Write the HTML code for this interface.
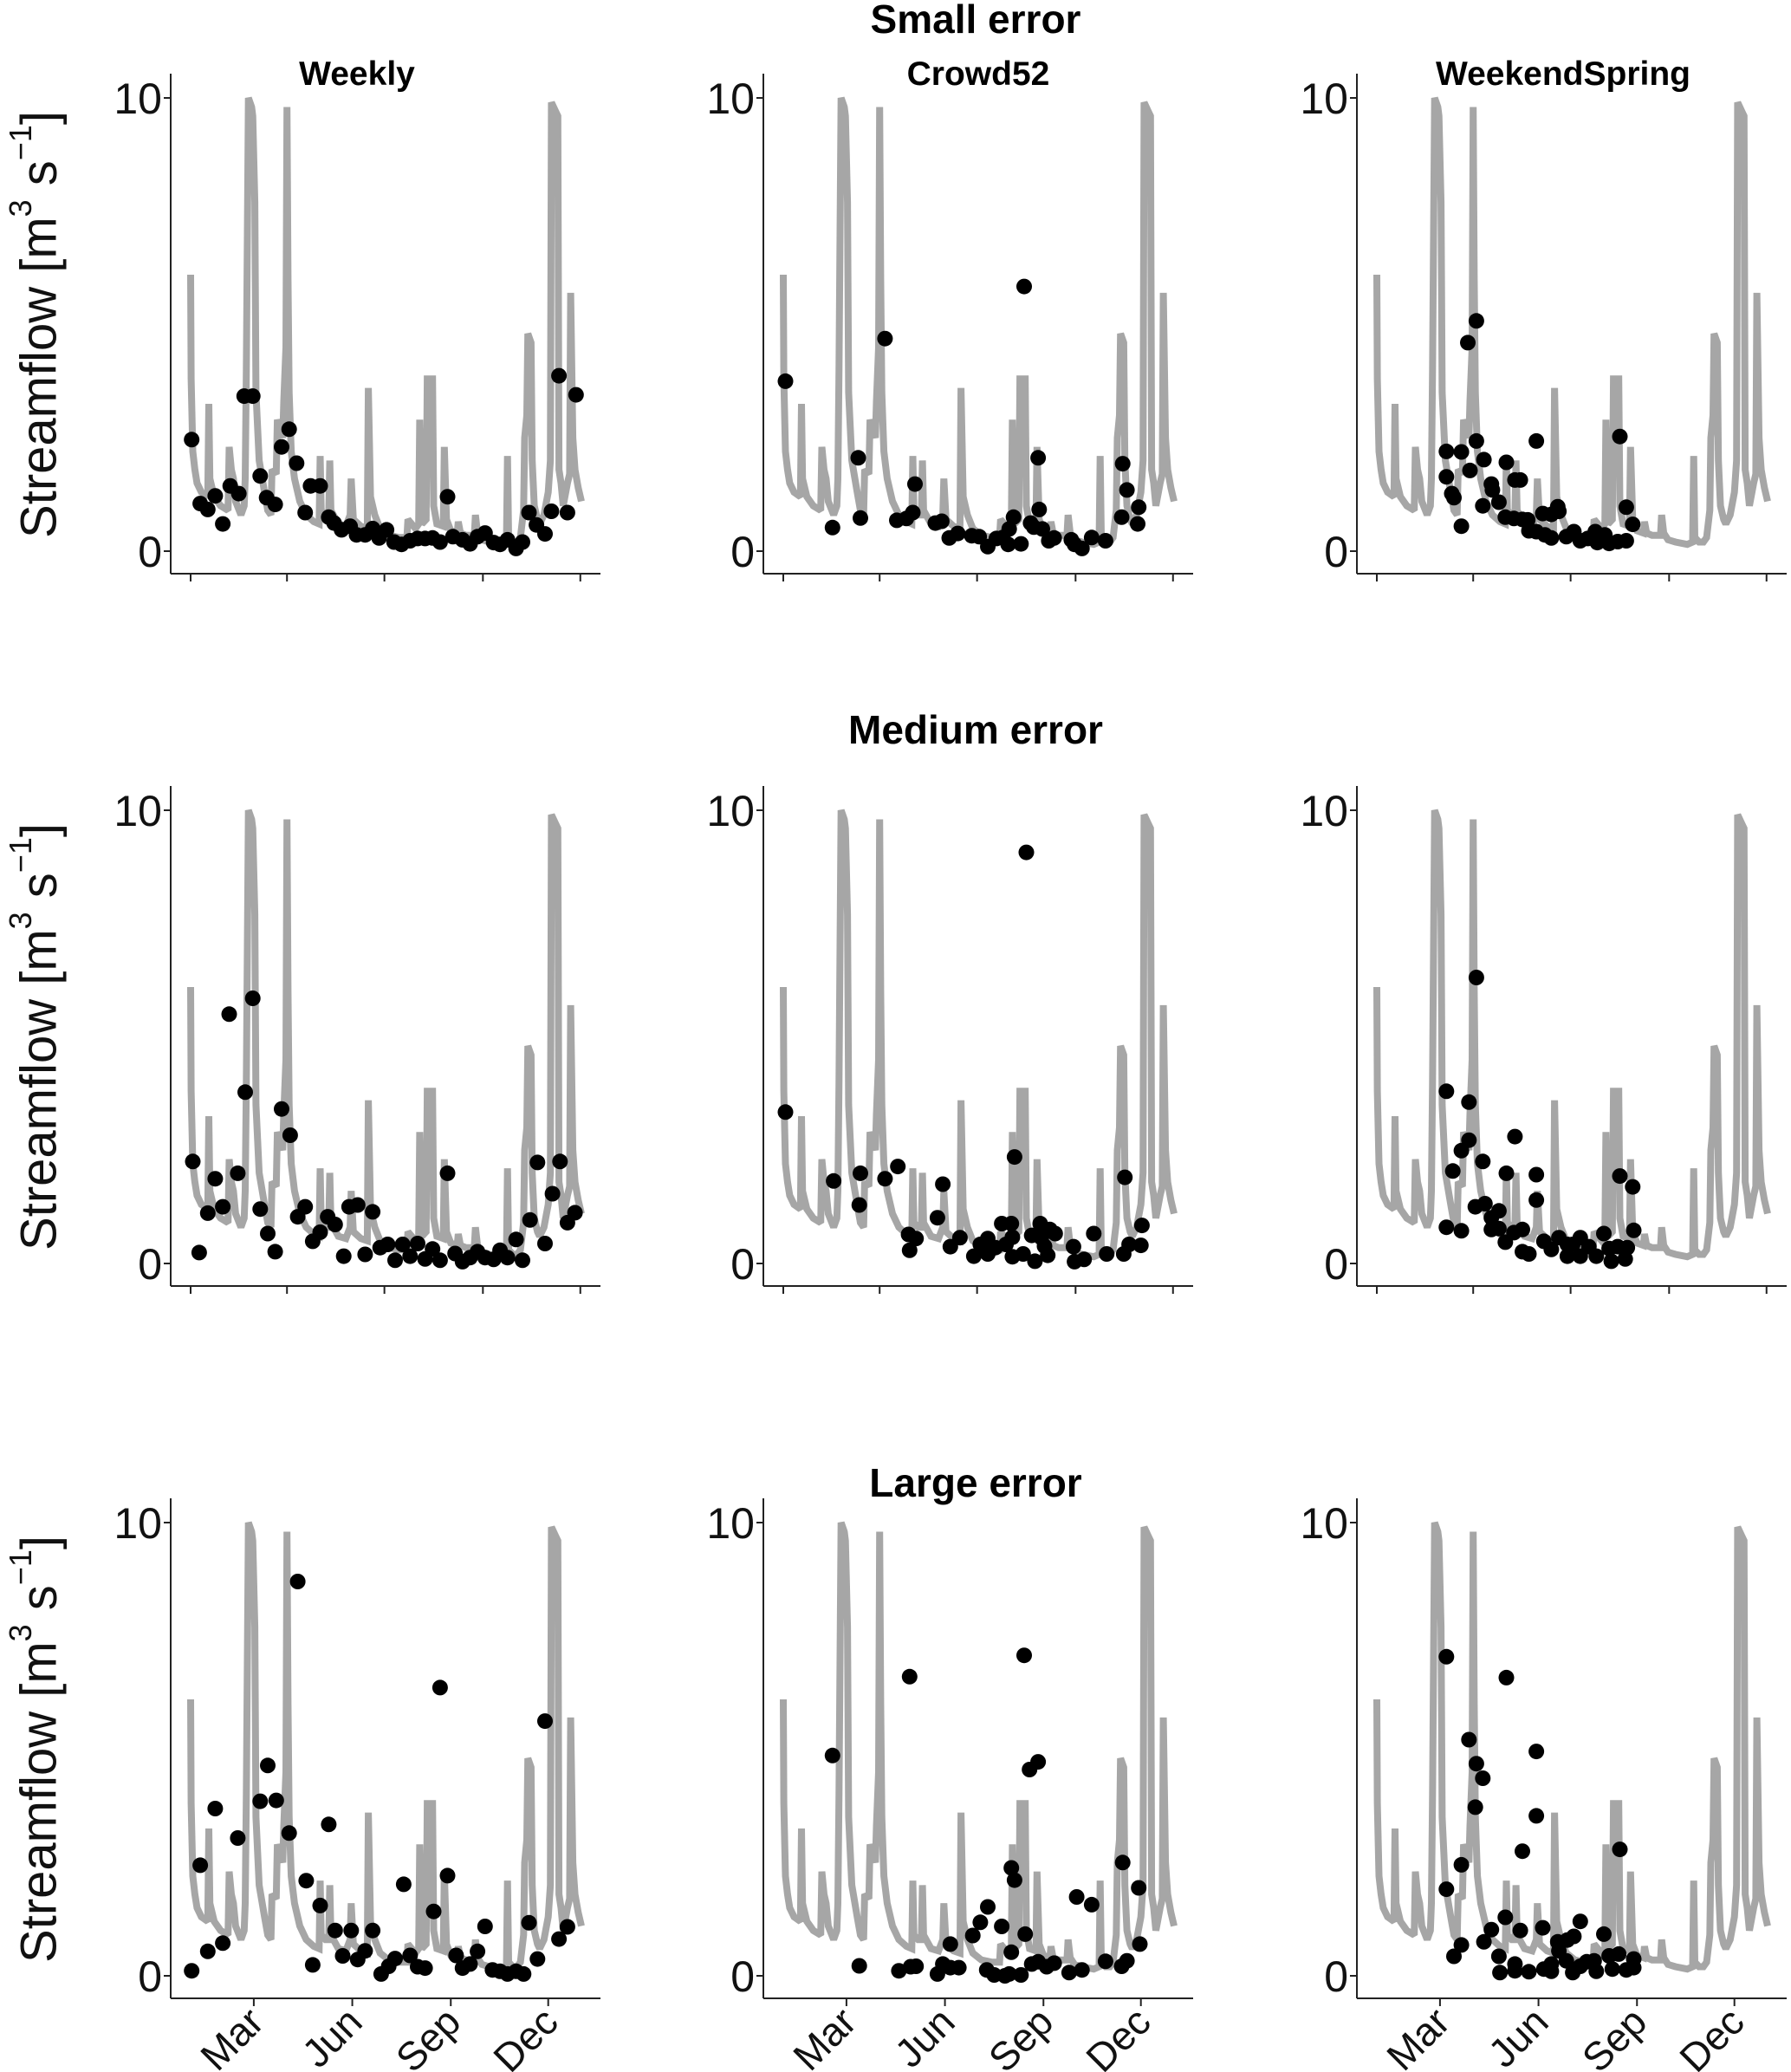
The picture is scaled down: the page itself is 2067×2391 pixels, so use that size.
<!DOCTYPE html>
<html><head><meta charset="utf-8">
<style>
html,body{margin:0;padding:0;background:#fff;}
svg{display:block;font-family:"Liberation Sans",Arial,sans-serif;}
</style></head>
<body>
<svg id="chart" width="2067" height="2391" viewBox="0 0 2067 2391" xmlns="http://www.w3.org/2000/svg">
<text x="1126" y="38" font-size="46" font-weight="bold" text-anchor="middle">Small error</text>
<text x="1126" y="858" font-size="46" font-weight="bold" text-anchor="middle">Medium error</text>
<text x="1126" y="1727" font-size="46" font-weight="bold" text-anchor="middle">Large error</text>
<text x="412" y="98" font-size="39" font-weight="bold" text-anchor="middle">Weekly</text>
<text x="1129" y="98" font-size="39" font-weight="bold" text-anchor="middle">Crowd52</text>
<text x="1804" y="98" font-size="39" font-weight="bold" text-anchor="middle">WeekendSpring</text>
</svg>
<script>
// Hydrograph (shared by all panels): day of year, streamflow m3/s
const hydroDays = [0,0.5,2,4,6,10,16,17,18,22,28,35,36,38,40,42,47,50,51,52,53,54,57,58,60,61,64,69,72,75,76,80,81,86,87,89,90,91,92,94,97,102,108,115,120,121,122,126,129,130,131,138,145,149,150,152,159,165,166,168,172,177,185,195,202,203,210,213,214,216,220,221,226,227,230,236,237,239,243,249,250,252,257,265,266,268,272,279,290,295,296,297,301,305,308,311,312,314,315,318,319,321,324,326,330,334,336,337,341,343,344,346,348,352,354,355,357,359,362,365];
const hydroQ = [6.1,3.8,2.2,1.8,1.5,1.3,1.2,3.25,1.6,1.2,1.0,0.9,2.3,1.8,1.6,1.1,0.8,1.0,1.6,4.0,7.0,10,9.8,9.6,7.7,3.5,2.0,1.3,0.9,0.8,1.8,1.7,2.9,2.5,3.3,4.5,9.8,6,3.5,2.2,1.6,1.1,0.8,0.65,0.6,2.1,0.9,0.8,0.8,2.0,0.9,0.6,0.55,0.8,1.6,0.7,0.55,0.5,3.6,1.2,0.8,0.5,0.35,0.3,0.3,0.7,0.5,0.6,2.9,0.6,0.7,3.8,3.8,1.0,0.6,0.55,2.3,0.7,0.45,0.4,0.65,0.4,0.35,0.35,0.8,0.4,0.25,0.2,0.15,0.2,2.1,0.3,0.2,0.2,0.3,0.9,2.5,3.0,4.8,4.6,2.0,1.0,0.7,0.6,0.8,1.3,2.0,9.9,9.7,9.6,1.8,1.5,1.0,1.5,1.7,5.7,2.5,1.8,1.4,1.1];

// Observations per panel (row = error level, col = strategy): days and values
const smallWeeklyDays = [1,9,16,23,30,37,45,50,58,65,71,79,85,92,99,107,112,121,129,134,141,149,155,163,170,176,183,190,197,205,212,219,226,233,240,245,254,261,268,275,283,289,296,304,310,316,323,331,337,344,352,360];
const smallWeeklyQ = [2.46,1.05,0.92,1.22,0.6,1.44,1.27,3.42,3.42,1.66,1.18,1.03,2.3,2.69,1.94,0.85,1.44,1.44,0.75,0.62,0.47,0.55,0.36,0.36,0.5,0.29,0.47,0.2,0.15,0.23,0.28,0.28,0.29,0.2,1.2,0.32,0.25,0.16,0.32,0.4,0.19,0.15,0.25,0.06,0.2,0.85,0.58,0.38,0.88,3.87,0.85,3.45];
const smallCrowdDays = [2,46,70,72,95,106,115,121,123,142,148,155,163,176,183,191,199,205,210,211,215,222,225,231,234,238,239,242,248,253,269,272,279,288,301,317,316,321,331,332];
const smallCrowdQ = [3.75,0.52,2.06,0.73,4.69,0.68,0.72,0.85,1.48,0.62,0.66,0.29,0.39,0.34,0.32,0.1,0.28,0.3,0.15,0.49,0.75,0.16,5.84,0.62,0.53,2.06,0.92,0.49,0.23,0.29,0.25,0.15,0.06,0.3,0.23,1.93,0.75,1.35,0.6,0.97];
const smallSpringDays = [65,79,65,70,72,79,85,93,93,87,100,99,107,108,114,121,120,129,134,128,136,141,142,149,149,155,157,163,163,169,170,177,184,190,197,204,206,213,217,225,227,233,233,239];
const smallSpringQ = [2.2,2.19,1.64,1.27,1.18,0.55,4.6,5.08,2.43,1.78,2.02,1.0,1.48,1.35,1.08,1.96,0.75,1.57,1.57,0.72,0.7,0.69,0.45,2.43,0.43,0.83,0.36,0.81,0.29,0.98,0.88,0.32,0.43,0.23,0.28,0.43,0.19,0.36,0.17,0.21,2.53,0.97,0.23,0.59];
const medWeeklyDays = [2,8,16,23,30,36,44,51,58,65,72,79,85,93,100,107,114,121,128,135,143,148,156,163,170,177,184,191,198,205,212,219,226,233,240,247,254,261,268,275,283,289,296,304,310,317,324,331,338,345,352,359];
const medWeeklyQ = [2.25,0.24,1.11,1.87,1.25,5.5,1.99,3.78,5.85,1.2,0.66,0.26,3.41,2.83,1.03,1.25,0.49,0.69,1.03,0.86,0.16,1.25,1.29,0.2,1.14,0.35,0.42,0.07,0.42,0.16,0.44,0.1,0.32,0.07,1.99,0.22,0.04,0.13,0.26,0.13,0.09,0.29,0.13,0.53,0.07,0.96,2.23,0.44,1.54,2.25,0.9,1.12];
const medCrowdDays = [2,47,72,71,95,107,117,124,118,149,144,156,165,178,184,191,191,198,204,213,208,214,214,216,227,224,232,235,240,241,244,249,247,254,271,272,281,290,302,318,319,323,334,335];
const medCrowdQ = [3.34,1.82,1.99,1.29,1.87,2.14,0.64,0.55,0.29,1.75,1.01,0.37,0.57,0.16,0.42,0.55,0.21,0.35,0.88,0.88,0.42,0.58,0.15,2.35,9.07,0.21,0.62,0.05,0.88,0.57,0.38,0.75,0.18,0.66,0.37,0.04,0.09,0.66,0.21,0.21,1.9,0.42,0.4,0.84];
const medSpringDays = [65,86,93,86,79,71,99,129,121,149,149,227,239,240,65,79,92,101,107,114,107,114,120,128,136,136,142,156,163,170,178,178,190,190,198,205,212,217,219,225,232,234,183];
const medSpringQ = [3.8,3.56,6.31,2.72,2.49,2.04,2.25,2.8,1.99,1.96,1.4,1.93,1.69,0.73,0.8,0.72,1.25,1.32,1.01,1.16,0.75,0.77,0.47,0.68,0.75,0.26,0.21,0.49,0.31,0.57,0.16,0.42,0.57,0.16,0.37,0.16,0.66,0.33,0.05,0.37,0.1,0.35,0.42];
const largeWeeklyDays = [1,9,16,23,30,44,65,72,80,92,100,108,114,121,129,135,142,150,156,163,170,178,185,191,199,205,212,219,227,233,240,248,254,261,268,275,282,289,296,304,311,316,324,331,344,352];
const largeWeeklyQ = [0.11,2.44,0.54,3.69,0.72,3.04,3.85,4.64,3.87,3.15,8.7,2.1,0.24,1.55,3.34,1.0,0.44,1.0,0.36,0.55,1.0,0.04,0.21,0.38,2.02,0.45,0.2,0.17,1.42,6.36,2.21,0.45,0.17,0.26,0.54,1.09,0.13,0.1,0.04,0.1,0.04,1.17,0.37,5.62,0.81,1.08];
const largeCrowdDays = [46,71,118,108,119,124,144,149,156,156,164,177,184,190,191,197,204,207,211,213,213,216,222,225,226,230,238,232,238,246,253,267,274,279,288,301,317,316,321,332,333];
const largeCrowdQ = [4.86,0.22,6.6,0.11,0.2,0.21,0.04,0.26,0.7,0.18,0.18,0.89,1.18,0.13,1.52,0.02,1.09,0.0,0.04,0.52,2.38,2.11,0.02,7.07,0.92,4.55,4.72,0.26,0.31,0.2,0.28,0.07,1.74,0.13,1.57,0.32,2.5,0.21,0.33,1.94,0.7];
const largeSpringDays = [65,65,72,79,79,86,93,99,92,100,107,114,115,120,121,129,129,136,134,142,149,149,155,156,163,163,169,170,177,178,184,183,190,190,196,203,205,212,217,220,226,227,233,240,240];
const largeSpringQ = [7.04,1.91,0.43,2.45,0.68,5.21,4.68,4.36,3.72,0.75,1.02,0.43,0.07,1.29,6.58,0.26,0.11,2.75,1.0,0.09,4.95,3.53,1.06,0.15,0.1,0.26,0.75,0.55,0.33,0.79,0.87,0.07,1.2,0.21,0.31,0.33,0.1,0.92,0.44,0.15,0.48,2.79,0.13,0.37,0.18];

const yTickValues = [0, 10];
const yTickLabels = ["0", "10"];
const xTickDaysPlain = [0, 90, 181, 273, 364];
const xTickDaysLabeled = [59, 151, 243, 334];
const xTickLabels = ["Mar", "Jun", "Sep", "Dec"];
const colNames = ["weekly", "crowd52", "weekendspring"];
const rowNames = ["small", "medium", "large"];

const panels = [
  [[smallWeeklyDays, smallWeeklyQ],[smallCrowdDays, smallCrowdQ],[smallSpringDays, smallSpringQ]],
  [[medWeeklyDays, medWeeklyQ],[medCrowdDays, medCrowdQ],[medSpringDays, medSpringQ]],
  [[largeWeeklyDays, largeWeeklyQ],[largeCrowdDays, largeCrowdQ],[largeSpringDays, largeSpringQ]]
];

const NS = "http://www.w3.org/2000/svg";
const svg = document.getElementById("chart");
const colX0 = [220, 904, 1589];
const rowY10 = [113, 935, 1757];
const plotW = 451, ySpan = 523;

function mk(tag, attrs, parent) {
  const e = document.createElementNS(NS, tag);
  for (const k in attrs) e.setAttribute(k, attrs[k]);
  parent.appendChild(e);
  return e;
}

for (let r = 0; r < 3; r++) {
  for (let c = 0; c < 3; c++) {
    const x0 = colX0[c], y10 = rowY10[r], y0 = y10 + ySpan;
    const xs = d => x0 + d / 365 * plotW;
    const ys = v => y0 - v / 10 * ySpan;
    const g = mk("g", {}, svg);
    
    

    let dpath = "";
    for (let i = 0; i < hydroDays.length; i++) {
      dpath += (i ? "L" : "M") + xs(hydroDays[i]).toFixed(1) + " " + ys(hydroQ[i]).toFixed(1);
    }
    const line = mk("path", {d: dpath, fill: "none", stroke: "#a6a6a6", "stroke-width": 8, "stroke-linejoin": "miter", "stroke-miterlimit": 2}, g);
    
    

    const [pd, pq] = panels[r][c];
    for (let i = 0; i < pd.length; i++) {
      const p = mk("circle", {cx: xs(pd[i]).toFixed(1), cy: ys(pq[i]).toFixed(1), r: 9, fill: "#000"}, g);
      
      
    }

    const axB = y0 + 26, axL = x0 - 23;
    const ya = mk("line", {x1: axL, y1: y10 - 28, x2: axL, y2: axB, stroke: "#222", "stroke-width": 2}, g);
    
    
    const xa = mk("line", {x1: axL, y1: axB, x2: x0 + plotW + 22, y2: axB, stroke: "#222", "stroke-width": 2}, g);
    
    

    for (let i = 0; i < yTickValues.length; i++) {
      const yy = ys(yTickValues[i]);
      const t = mk("line", {x1: axL - 8, y1: yy, x2: axL, y2: yy, stroke: "#222", "stroke-width": 2}, g);
      
      
      const lb = mk("text", {x: axL - 10, y: yy + 18, "font-size": 50, "text-anchor": "end", fill: "#111"}, g);
      lb.textContent = yTickLabels[i];
      
      
    }

    if (r < 2) {
      for (const d of xTickDaysPlain) {
        const t = mk("line", {x1: xs(d), y1: axB, x2: xs(d), y2: axB + 9, stroke: "#222", "stroke-width": 2}, g);
        
        
      }
    } else {
      for (let i = 0; i < xTickDaysLabeled.length; i++) {
        const xx = xs(xTickDaysLabeled[i]);
        const t = mk("line", {x1: xx, y1: axB, x2: xx, y2: axB + 9, stroke: "#222", "stroke-width": 2}, g);
        
        
        const lb = mk("text", {x: xx + 14, y: axB + 30, "font-size": 46, "text-anchor": "end", fill: "#111", transform: "rotate(-45 " + (xx + 14) + " " + (axB + 30) + ")"}, g);
        lb.textContent = xTickLabels[i];
        
        
      }
    }

    if (c === 0) {
      const cy = (y10 + y0) / 2;
      const tt = mk("text", {x: 45, y: cy, "font-size": 58, "text-anchor": "middle", "dominant-baseline": "central", fill: "#111", transform: "rotate(-90 45 " + cy + ")"}, g);
      
      
      tt.innerHTML = 'Streamflow [m<tspan font-size="36" dy="-22">3</tspan><tspan dy="22"> s</tspan><tspan font-size="36" dy="-22">−1</tspan><tspan dy="22">]</tspan>';
    }
  }
}
</script>
</body></html>
